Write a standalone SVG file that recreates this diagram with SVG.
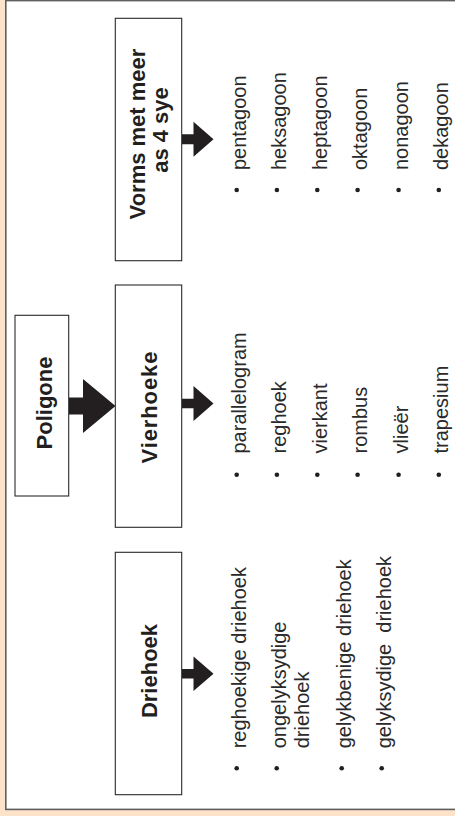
<svg xmlns="http://www.w3.org/2000/svg" width="455" height="816" viewBox="0 0 455 816">
<style>
.box{fill:#fff;stroke:#2a2a2a;stroke-width:1.1}
.lbl{font-family:"Liberation Sans",Arial,sans-serif;font-weight:bold;font-size:22px;fill:#231f20;text-anchor:middle}
.item{font-family:"Liberation Sans",Arial,sans-serif;font-size:20px;fill:#2a2a2a}
.dot{fill:#231f20}
.arrow{fill:#231f20}
</style>
<rect x="0" y="0" width="455" height="816" fill="#fee3cb"/>
<rect x="5.8" y="0.6" width="460" height="808.8" fill="#fff" stroke="#5f5f5f" stroke-width="1.6"/>

<g id="connectors">
<polygon class="arrow" points="69,397.5 83,397.5 83,379 115.5,406 83,433 83,414.5 69,414.5"/>
<polygon class="arrow" points="182,134.2 193.5,134.2 193.5,121.7 213.5,139.2 193.5,156.7 193.5,144.2 182,144.2"/>
<polygon class="arrow" points="182,398.8 193.5,398.8 193.5,386 213.5,403.5 193.5,421 193.5,408.3 182,408.3"/>
<polygon class="arrow" points="182,669 193.5,669 193.5,656.5 213.5,673.7 193.5,691 193.5,678.5 182,678.5"/>
</g>

<g id="poligone">
<rect class="box" x="15" y="315.3" width="53.7" height="180.7"/>
<text class="lbl" transform="translate(51.5,403) rotate(-90)">Poligone</text>
</g>

<g id="vorms">
<rect class="box" x="115.3" y="18.3" width="66.4" height="242.4"/>
<text class="lbl" transform="translate(145,134) rotate(-90)">Vorms met meer</text>
<text class="lbl" transform="translate(168,130) rotate(-90)">as 4 sye</text>
</g>

<g id="vierhoeke">
<rect class="box" x="115.3" y="285" width="66.4" height="242.3"/>
<text class="lbl" transform="translate(156.5,407.5) rotate(-90)" textLength="112">Vierhoeke</text>
</g>

<g id="driehoek">
<rect class="box" x="115.3" y="552.3" width="66.4" height="242.4"/>
<text class="lbl" transform="translate(156.5,671) rotate(-90)">Driehoek</text>
</g>

<g id="vorms-list">
<circle class="dot" cx="236.7" cy="190" r="2.3"/>
<circle class="dot" cx="276.9" cy="190" r="2.3"/>
<circle class="dot" cx="317.3" cy="190" r="2.3"/>
<circle class="dot" cx="357.6" cy="190" r="2.3"/>
<circle class="dot" cx="398.6" cy="190" r="2.3"/>
<circle class="dot" cx="438.8" cy="190" r="2.3"/>
<text class="item" transform="translate(246.2,170) rotate(-90)">pentagoon</text>
<text class="item" transform="translate(286.4,170) rotate(-90)">heksagoon</text>
<text class="item" transform="translate(326.8,170) rotate(-90)">heptagoon</text>
<text class="item" transform="translate(367.1,170) rotate(-90)">oktagoon</text>
<text class="item" transform="translate(408.1,170) rotate(-90)">nonagoon</text>
<text class="item" transform="translate(448.3,170) rotate(-90)">dekagoon</text>
</g>

<g id="vierhoeke-list">
<circle class="dot" cx="236.7" cy="474.8" r="2.3"/>
<circle class="dot" cx="276.9" cy="474.8" r="2.3"/>
<circle class="dot" cx="317.3" cy="474.8" r="2.3"/>
<circle class="dot" cx="357.6" cy="474.8" r="2.3"/>
<circle class="dot" cx="398.6" cy="474.8" r="2.3"/>
<circle class="dot" cx="438.8" cy="474.8" r="2.3"/>
<text class="item" transform="translate(246.2,453.5) rotate(-90)">parallelogram</text>
<text class="item" transform="translate(286.4,453.5) rotate(-90)">reghoek</text>
<text class="item" transform="translate(326.8,453.5) rotate(-90)">vierkant</text>
<text class="item" transform="translate(367.1,453.5) rotate(-90)">rombus</text>
<text class="item" transform="translate(408.1,453.5) rotate(-90)">vlieër</text>
<text class="item" transform="translate(448.3,453.5) rotate(-90)">trapesium</text>
</g>

<g id="driehoek-list">
<circle class="dot" cx="236.7" cy="768.3" r="2.3"/>
<circle class="dot" cx="276.7" cy="768.3" r="2.3"/>
<circle class="dot" cx="341.7" cy="768.3" r="2.3"/>
<circle class="dot" cx="381.7" cy="768.3" r="2.3"/>
<text class="item" transform="translate(246.2,748.3) rotate(-90)">reghoekige driehoek</text>
<text class="item" transform="translate(286.2,748.3) rotate(-90)">ongelyksydige</text>
<text class="item" transform="translate(308.5,748.3) rotate(-90)">driehoek</text>
<text class="item" transform="translate(351.2,748.3) rotate(-90)">gelykbenige driehoek</text>
<text class="item" transform="translate(391.2,748.3) rotate(-90)" style="white-space:pre">gelyksydige  driehoek</text>
</g>
</svg>
